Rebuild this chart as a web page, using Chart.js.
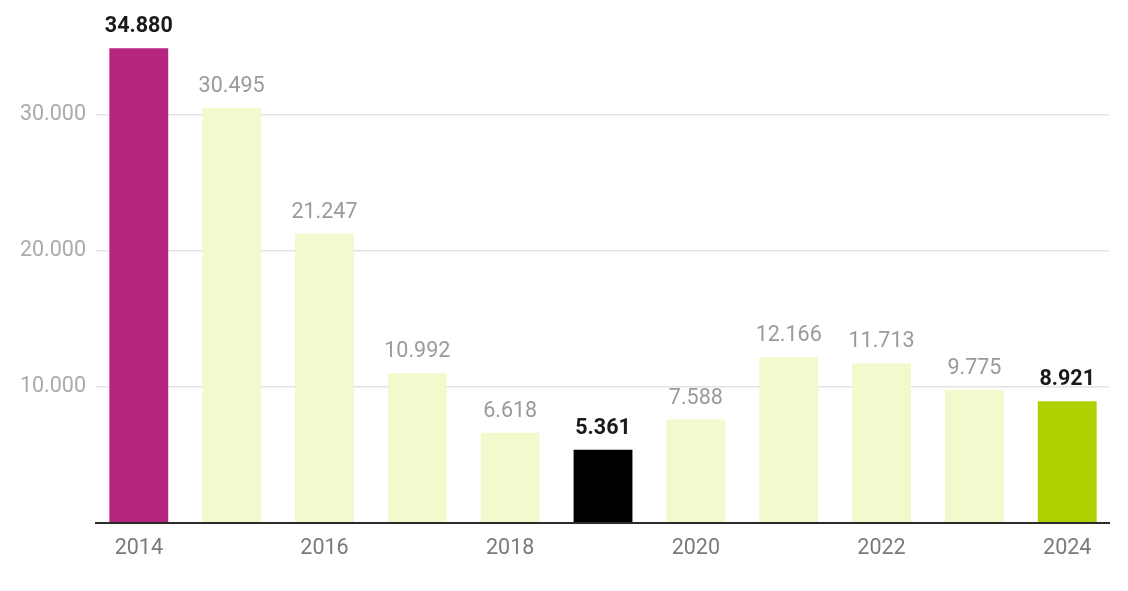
<!DOCTYPE html>
<html>
<head>
<meta charset="utf-8">
<script src="https://cdn.jsdelivr.net/npm/chart.js@4"></script>
<style>
html,body{margin:0;padding:0;background:#fff;}
#wrap{width:1128px;height:591px;position:relative;}
</style>
</head>
<body>
<div id="wrap"><canvas id="c" width="1128" height="591"></canvas></div>
<script>
const years = ['2014','2015','2016','2017','2018','2019','2020','2021','2022','2023','2024'];
const values = [34880, 30495, 21247, 10992, 6618, 5361, 7588, 12166, 11713, 9775, 8921];
const barColors = ['#b5247f','#f2f9cc','#f2f9cc','#f2f9cc','#f2f9cc','#000000','#f2f9cc','#f2f9cc','#f2f9cc','#f2f9cc','#b1d000'];
const highlighted = [0, 5, 10];
const yTicks = [10000, 20000, 30000];
const xLabelIdx = [0, 2, 4, 6, 8, 10];

function fmt(v){
  return String(Math.round(v)).replace(/\B(?=(\d{3})+(?!\d))/g, '.');
}

const labelPlugin = {
  id: 'valueLabels',
  afterDatasetsDraw(chart){
    const ctx = chart.ctx;
    const meta = chart.getDatasetMeta(0);
    ctx.save();
    ctx.textAlign = 'center';
    ctx.textBaseline = 'alphabetic';
    meta.data.forEach((bar, i) => {
      const hl = highlighted.includes(i);
      ctx.font = (hl ? 'bold ' : '') + '21.5px Roboto';
      ctx.fillStyle = hl ? '#1a1a1a' : '#9a9a9a';
      ctx.fillText(fmt(values[i]), bar.x, bar.y - 16);
    });
    ctx.restore();
  }
};

new Chart(document.getElementById('c'), {
  type: 'bar',
  data: {
    datasets: [{
      data: values.map((v, i) => ({ x: i, y: v })),
      backgroundColor: barColors,
      borderWidth: 0,
      categoryPercentage: 1,
      barPercentage: 0.634
    }]
  },
  options: {
    responsive: false,
    animation: false,
    devicePixelRatio: 1,
    layout: { padding: { top: 46.7, right: 19, left: 0, bottom: 0 } },
    plugins: { legend: { display: false }, tooltip: { enabled: false } },
    scales: {
      x: {
        type: 'linear',
        min: -0.461,
        max: 10.45,
        offset: false,
        afterBuildTicks(scale){ scale.ticks = xLabelIdx.map(v => ({ value: v })); },
        grid: { display: false, drawTicks: false },
        border: { display: true, color: '#2b2b2b', width: 2 },
        ticks: {
          autoSkip: false,
          maxRotation: 0,
          padding: 13,
          color: '#7a7a7a',
          font: { family: 'Roboto', size: 21.5 },
          callback: (v) => years[v]
        },
        afterFit(scale){ scale.height = 68.3; }
      },
      y: {
        min: 0,
        max: 35000,
        afterBuildTicks(scale){ scale.ticks = [0].concat(yTicks).concat([35000]).map(v => ({ value: v })); },
        grid: {
          drawTicks: false,
          color: (c) => (c.tick && yTicks.includes(c.tick.value)) ? '#e3e3e3' : 'rgba(0,0,0,0)',
          lineWidth: 1.5
        },
        border: { display: false },
        ticks: {
          padding: 10,
          color: '#ababab',
          font: { family: 'Roboto', size: 21.5 },
          callback: (v) => yTicks.includes(v) ? fmt(v) : ''
        },
        afterFit(scale){ scale.width = 96; }
      }
    }
  },
  plugins: [labelPlugin]
});
</script>
</body>
</html>
